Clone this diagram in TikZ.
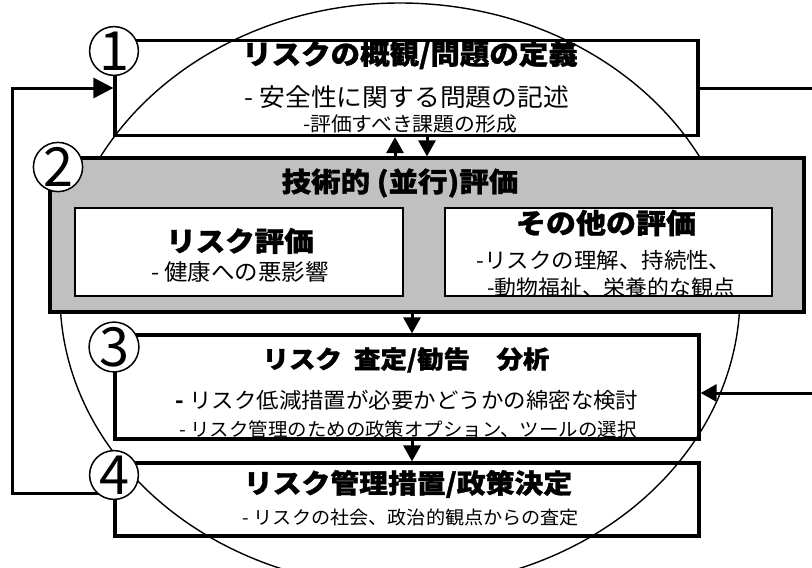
\documentclass[tikz,border=0pt]{standalone}
\usepackage{fontspec}
\usetikzlibrary{arrows.meta}
\setmainfont{Noto Sans CJK JP}
\newfontfamily\jpt[FakeStretch=1.08,FakeBold=1.2]{Noto Sans CJK JP}
\newfontfamily\jpr[FakeStretch=1.04]{Noto Sans CJK JP}
\IfFontExistsTF{FiraSans-ExtraLight.otf}{\newfontfamily\digitfont{FiraSans-ExtraLight.otf}}{%
  \IfFontExistsTF{FiraSans-Light.otf}{\newfontfamily\digitfont{FiraSans-Light.otf}}{%
    \newfontfamily\digitfont{Noto Sans CJK JP}}}
\newcommand\myfs[1]{\fontsize{#1}{#1}\selectfont}
\definecolor{boxgray}{RGB}{192,192,192}
\begin{document}
\begin{tikzpicture}[x=1pt,y=-1pt,
  mainbox/.style={draw, line width=3.2pt, inner sep=0pt, rectangle},
  innerbox/.style={draw, fill=white, line width=2pt, inner sep=0pt, rectangle},
  txt/.style={inner sep=0pt, anchor=center},
  ttl/.style={txt, font=\jpt\bfseries},
  body/.style={txt, font=\jpr},
  numcirc/.style={circle, draw, fill=white, line width=1.5pt, minimum size=46pt, inner sep=0pt, font=\digitfont\myfs{54}},
  conn/.style={line width=3pt},
  arrl/.style={line width=3pt, -{Triangle[length=16pt,width=17pt]}},
  bigarr/.style={line width=3pt, -{Triangle[length=20pt,width=20pt]}}]
\useasboundingbox (0,0) rectangle (812,568);
\fill[white] (0,0) rectangle (812,568);
% big ellipse
\begin{scope}
\clip (0,0) rectangle (812,568);
\draw[line width=1.4pt] (400,295) ellipse [x radius=340pt, y radius=292pt];
\end{scope}
% box 2 (gray)
\node[mainbox, fill=boxgray, minimum width=754pt, minimum height=154pt] (b2) at (427,235) {};
\node[innerbox, minimum width=328pt, minimum height=88pt] (b2a) at (239,252) {};
\node[innerbox, minimum width=327pt, minimum height=88pt] (b2b) at (608.5,252) {};
% boxes 1, 3, 4
\node[mainbox, minimum width=583pt, minimum height=95pt] (b1) at (406.5,88) {};
\node[mainbox, minimum width=584pt, minimum height=104pt] (b3) at (407,387) {};
\node[mainbox, minimum width=584pt, minimum height=73pt] (b4) at (407,499.5) {};
% texts box 1
\node[ttl] (t1a) at (410,55) {\myfs{27.3}リスクの概観/問題の定義};
\node[body] (t1b) at (407,97) {\myfs{24.8}- 安全性に関する問題の記述};
\node[body] (t1c) at (410,124) {\myfs{20}-評価すべき課題の形成};
% texts box 2
\node[ttl] (t2a) at (400,183) {\myfs{27.3}技術的 (並行)評価};
\node[ttl] (t2b) at (240,241) {\myfs{27.3}リスク評価};
\node[body] (t2c) at (240,272) {\myfs{22.6}- 健康への悪影響};
\node[ttl] (t2d) at (606,223) {\myfs{27.8}その他の評価};
\node[body] (t2e) at (604,260) {\myfs{21.6}-リスクの理解、持続性、};
\node[body] (t2f) at (611,288) {\myfs{21}-動物福祉、栄養的な観点};
% texts box 3
\node[ttl] (t3a) at (406,360) {\myfs{24.5}リスク\ \ 査定/勧告　分析};
\node[body] (t3b) at (407,400) {\myfs{21.6}{\bfseries -} リスク低減措置が必要かどうかの綿密な検討};
\node[body] (t3c) at (408,429) {\myfs{18.7}- リスク管理のための政策オプション、ツールの選択};
% texts box 4
\node[ttl] (t4a) at (408,484) {\myfs{26.7}リスク管理措置/政策決定};
\node[body] (t4b) at (411,518) {\myfs{18.4}- リスクの社会、政治的観点からの査定};
% arrows between boxes
\draw[arrl] (b2.north -| 395,0) -- (b1.south -| 395,0);
\draw[arrl] (b1.south -| 427,0) -- (b2.north -| 427,0);
\draw[arrl] (b2.south -| 412,0) -- (b3.north -| 412,0);
\draw[arrl] (b3.south -| 412,0) -- (b4.north -| 412,0);
% feedback lines
\coordinate (fb) at (115,493);
\coordinate (fbc) at (12,88);
\draw[bigarr] (fb) -| (fbc) -- (b1.west);
\coordinate (rt) at (812,88);
\draw[conn] (b1.east) -- (rt);
\coordinate (rb) at (812,393);
\draw[arrl] (rb) -- (rb -| b3.east);
% numbered circles
\node[numcirc] (c1) at (114,51) {1};
\node[numcirc] (c2) at (58,167) {2};
\node[numcirc] (c3) at (114,347) {3};
\node[numcirc] (c4) at (114,475) {4};
\end{tikzpicture}
\end{document}
